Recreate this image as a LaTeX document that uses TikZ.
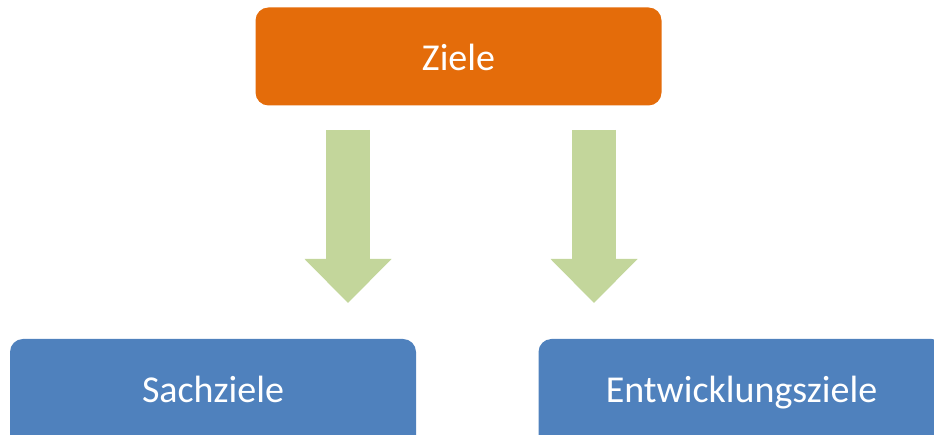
\documentclass[tikz,border=0pt]{standalone}
\usepackage{fontspec}
\setmainfont{Carlito}
\usepackage{xcolor}
\usepackage{tikz}
\usetikzlibrary{arrows.meta,positioning}

\definecolor{zielorange}{HTML}{E46C0A}
\definecolor{zielblue}{HTML}{4F81BD}
\definecolor{zielgreen}{HTML}{C3D69B}

\begin{document}
\begin{tikzpicture}[
    x=1pt, y=1pt,
    goalbox/.style={rectangle, rounded corners=13pt, minimum width=406pt, minimum height=98pt,
      inner sep=0pt, text=white, font=\fontsize{38}{46}\selectfont, text height=29pt, text depth=0pt},
    topgoal/.style={goalbox, fill=zielorange},
    subgoal/.style={goalbox, fill=zielblue, minimum height=120pt, text depth=21pt},
    bigarrow/.style={line width=44pt, zielgreen, -{Triangle[length=44pt, width=87pt, line width=0pt]}}
  ]
  \clip (0,0) rectangle (934,435);
  % Zielhierarchie
  \node[topgoal] (ziele) at (458.5,378.5) {Ziele};
  \node[subgoal] (sach) at (213,36) {Sachziele};
  \node[subgoal] (entw) at (741.5,36) {Entwicklungsziele};
  \coordinate (la) at (348,305);
  \coordinate (lb) at (348,132);
  \coordinate (ra) at (594,305);
  \coordinate (rb) at (594,132);
  \draw[bigarrow] (la) -- (lb);
  \draw[bigarrow] (ra) -- (rb);
\end{tikzpicture}
\end{document}
